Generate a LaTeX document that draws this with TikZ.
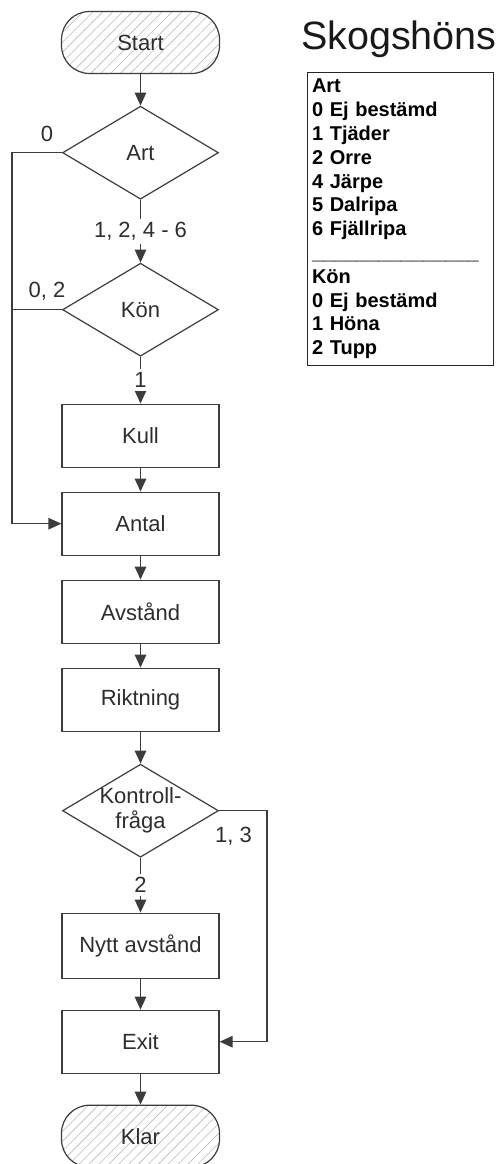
\documentclass[tikz,border=0pt]{standalone}
\usepackage{fontspec}
\setmainfont{Liberation Sans}
\usetikzlibrary{shapes.geometric, arrows.meta, positioning, patterns.meta}
\definecolor{flowline}{RGB}{60,60,60}
\definecolor{flowtext}{RGB}{45,45,45}
\definecolor{hatch}{RGB}{185,185,185}

\begin{document}
\begin{tikzpicture}[x=1pt, y=1pt,
  box/.style={rectangle, draw=flowline, line width=1.2pt, minimum width=157pt,
              minimum height=63pt, text=flowtext,
              font=\fontsize{22pt}{25pt}\selectfont},
  terminal/.style={box, rounded corners=28pt, minimum width=158pt, minimum height=62pt,
                   pattern={Lines[angle=45, distance=7pt, line width=0.6pt]},
                   pattern color=hatch},
  decision/.style={diamond, draw=flowline, line width=1.2pt, aspect=1.68,
                   inner sep=-6pt, minimum width=156pt, minimum height=93pt,
                   text=flowtext, align=center,
                   font=\fontsize{22pt}{25pt}\selectfont},
  legend/.style={rectangle, draw=black!85, line width=1pt, text width=177pt,
                 align=left, inner xsep=4.5pt, minimum height=293pt,
                 font=\fontsize{20pt}{23.8pt}\selectfont\bfseries},
  link/.style={line width=1.2pt, draw=flowline},
  arr/.style={link, -{Triangle[length=13pt, width=11.5pt]}},
  lbl/.style={text=flowtext, font=\fontsize{22pt}{25pt}\selectfont},
  cut/.style={lbl, fill=white}
]
\useasboundingbox (0,0) rectangle (502,-1164);

%% Flow chart
\node[terminal] (start) at (140.5,-42.5) {Start};
\node[decision, below=31.8pt of start]    (art)      {Art};
\node[decision, below=62.8pt of art]      (kon)      {Kön};
\node[box,      below=46.8pt of kon]      (kull)     {Kull};
\node[box,      below=23.8pt of kull]     (antal)    {Antal};
\node[box,      below=23.8pt of antal]    (avstand)  {Avstånd};
\node[box,      below=23.8pt of avstand]  (riktning) {Riktning};
\node[decision, below=31.8pt of riktning] (kontroll) {Kontroll-\\fråga};
\node[box,      below=54.8pt of kontroll, minimum height=65pt] (nytt) {Nytt avstånd};
\node[box,      below=30.8pt of nytt]     (exit)     {Exit};
\node[terminal, below=30.8pt of exit]     (klar)     {Klar};

\draw[arr] (start) -- (art);
\draw[arr] (art) -- node[cut]{1, 2, 4 - 6} (kon);
\draw[arr] (kon) -- node[cut]{1} (kull);
\draw[arr] (kull) -- (antal);
\draw[arr] (antal) -- (avstand);
\draw[arr] (avstand) -- (riktning);
\draw[arr] (riktning) -- (kontroll);
\draw[arr] (kontroll) -- node[cut]{2} (nytt);
\draw[arr] (nytt) -- (exit);
\draw[arr] (exit) -- (klar);

%% Side branches
\coordinate (lft) at (12,0);
\coordinate (rgt) at (267,0);
\draw[arr] (art.west) -- node[lbl, above=7pt, pos=0.3]{0} (art.west -| lft) |- (antal.west);
\draw[link] (kon.west) -- node[lbl, above=5pt, pos=0.3]{0, 2} (kon.west -| lft);
\draw[arr] (kontroll.east) -- node[lbl, below=12pt, pos=0.3]{1, 3} (kontroll.east -| rgt) |- (exit.east);

%% Legend
\node[anchor=base west, inner sep=0pt, text=black!90,
      font=\fontsize{39.5pt}{44pt}\selectfont] (title) at (301,-50) {Skogshöns};
\node[legend, anchor=north west] (key) at (307,-72)
  {Art\\0 Ej bestämd\\1 Tjäder\\2 Orre\\4 Järpe\\5 Dalripa\\6 Fjällripa\\
   \_\_\_\_\_\_\_\_\_\_\_\_\_\_\_\\Kön\\0 Ej bestämd\\1 Höna\\2 Tupp};
\end{tikzpicture}
\end{document}
